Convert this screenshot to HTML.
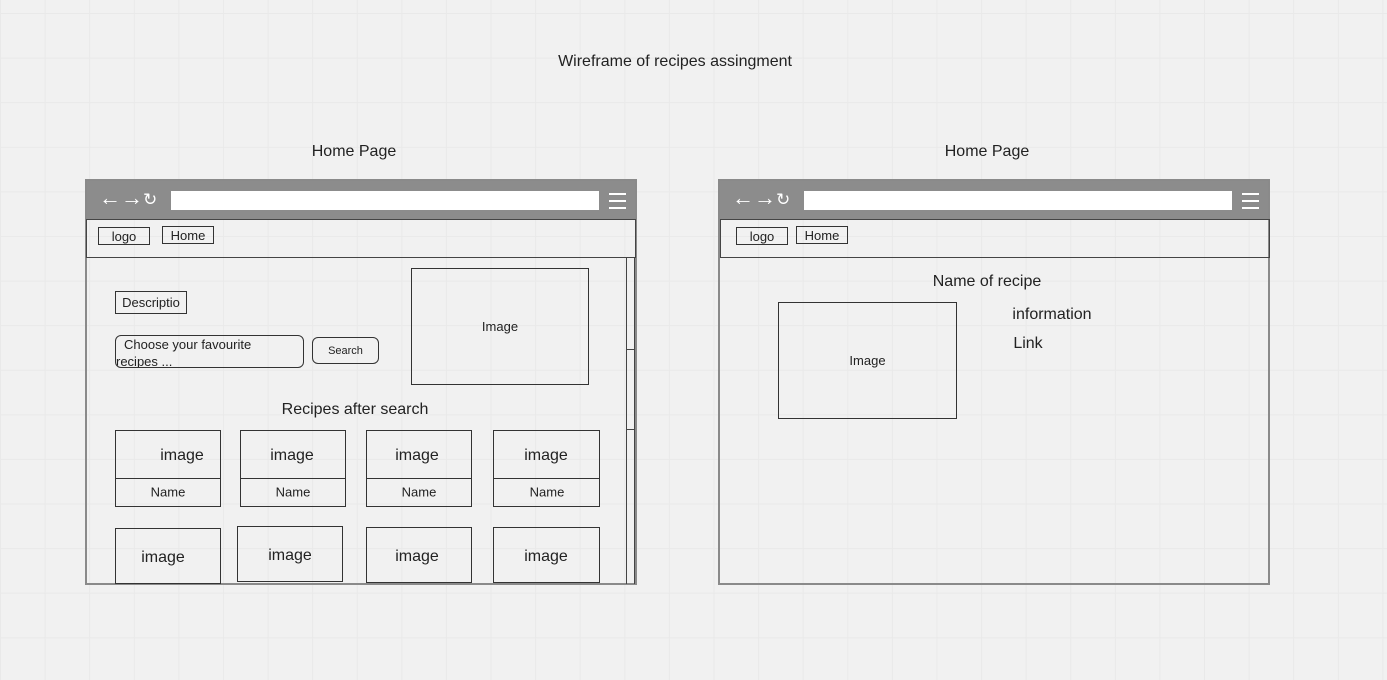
<!DOCTYPE html>
<html><head><meta charset="utf-8"><style>
body{margin:0;width:1387px;height:680px;overflow:hidden;background-color:#f1f1f1;
background-image:linear-gradient(#e9e9e9 1px,transparent 1px),linear-gradient(90deg,#e9e9e9 1px,transparent 1px);
background-size:44.6px 44.6px;background-position:0 13px;font-family:"Liberation Sans",sans-serif;color:#222;position:relative}
.a{position:absolute}
.t{position:absolute;white-space:nowrap;transform:translate(-50%,-45%)}
.b{position:absolute;border:1px solid #333;box-sizing:border-box}
.win{position:absolute;border:2px solid #8a8a8a;box-sizing:border-box;background:transparent}
.bar{position:absolute;left:0;right:0;top:0;height:39px;background:#8c8c8c}
.url{position:absolute;background:#fff}
.ic{position:absolute;color:#fff;font-size:22px;line-height:20px;font-weight:bold}
.c{display:flex;align-items:center;justify-content:center}
</style></head><body>
<div class="t" style="left:675px;top:61px;font-size:16px">Wireframe of recipes assingment</div>
<div class="t" style="left:354px;top:151px;font-size:16px">Home Page</div>
<div class="t" style="left:987px;top:151px;font-size:16px">Home Page</div>

<!-- left window -->
<div class="win" style="left:85px;top:179px;width:552px;height:406px">
 <div class="bar"></div>
 <div class="ic" style="left:12px;top:7px">←→</div>
 <div class="ic" style="left:56px;top:9px;font-size:17px;font-weight:normal">↻</div>
 <div class="url" style="left:84px;top:10px;width:428px;height:19px"></div>
 <div class="a" style="left:522px;top:12px;width:17px;height:2px;background:#fff;box-shadow:0 7px 0 #fff,0 14px 0 #fff"></div>
</div>
<div class="b" style="left:86px;top:219px;width:550px;height:39px;border-color:#444"></div>
<div class="a" style="left:626px;top:258px;width:1px;height:326px;background:#444"></div>
<div class="a" style="left:634px;top:258px;width:1px;height:326px;background:#444"></div>
<div class="a" style="left:626px;top:349px;width:9px;height:1px;background:#444"></div>
<div class="a" style="left:626px;top:429px;width:9px;height:1px;background:#444"></div>
<div class="b c" style="left:98px;top:227px;width:52px;height:18px;font-size:13px">logo</div>
<div class="b c" style="left:162px;top:226px;width:52px;height:18px;font-size:13px">Home</div>
<div class="b c" style="left:115px;top:291px;width:72px;height:23px;font-size:13px">Descriptio</div>
<div class="b" style="left:115px;top:335px;width:189px;height:33px;border-radius:6px;font-size:13px;overflow:hidden;line-height:17px;padding-left:8px">Choose your favourite<br><span style="margin-left:-8px">recipes ...</span></div>
<div class="b c" style="left:312px;top:337px;width:67px;height:27px;border-radius:6px;font-size:11px">Search</div>
<div class="b c" style="left:411px;top:268px;width:178px;height:117px;font-size:13px">Image</div>
<div class="t" style="left:355px;top:409px;font-size:16px">Recipes after search</div>

<div class="b" style="left:115px;top:430px;width:106px;height:77px"></div>
<div class="a" style="left:115px;top:478px;width:106px;height:1px;background:#333"></div>
<div class="t" style="left:182px;top:455px;font-size:16px">image</div>
<div class="t" style="left:168px;top:491px;font-size:13px">Name</div>

<div class="b" style="left:240px;top:430px;width:106px;height:77px"></div>
<div class="a" style="left:240px;top:478px;width:106px;height:1px;background:#333"></div>
<div class="t" style="left:292px;top:455px;font-size:16px">image</div>
<div class="t" style="left:293px;top:491px;font-size:13px">Name</div>

<div class="b" style="left:366px;top:430px;width:106px;height:77px"></div>
<div class="a" style="left:366px;top:478px;width:106px;height:1px;background:#333"></div>
<div class="t" style="left:417px;top:455px;font-size:16px">image</div>
<div class="t" style="left:419px;top:491px;font-size:13px">Name</div>

<div class="b" style="left:493px;top:430px;width:107px;height:77px"></div>
<div class="a" style="left:493px;top:478px;width:107px;height:1px;background:#333"></div>
<div class="t" style="left:546px;top:455px;font-size:16px">image</div>
<div class="t" style="left:547px;top:491px;font-size:13px">Name</div>

<div class="b" style="left:115px;top:528px;width:106px;height:56px"></div>
<div class="t" style="left:163px;top:557px;font-size:16px">image</div>
<div class="b" style="left:237px;top:526px;width:106px;height:56px"></div>
<div class="t" style="left:290px;top:555px;font-size:16px">image</div>
<div class="b" style="left:366px;top:527px;width:106px;height:56px"></div>
<div class="t" style="left:417px;top:556px;font-size:16px">image</div>
<div class="b" style="left:493px;top:527px;width:107px;height:56px"></div>
<div class="t" style="left:546px;top:556px;font-size:16px">image</div>

<!-- right window -->
<div class="win" style="left:718px;top:179px;width:552px;height:406px">
 <div class="bar"></div>
 <div class="ic" style="left:12px;top:7px">←→</div>
 <div class="ic" style="left:56px;top:9px;font-size:17px;font-weight:normal">↻</div>
 <div class="url" style="left:84px;top:10px;width:428px;height:19px"></div>
 <div class="a" style="left:522px;top:12px;width:17px;height:2px;background:#fff;box-shadow:0 7px 0 #fff,0 14px 0 #fff"></div>
</div>
<div class="b" style="left:720px;top:219px;width:550px;height:39px;border-color:#444"></div>
<div class="b c" style="left:736px;top:227px;width:52px;height:18px;font-size:13px">logo</div>
<div class="b c" style="left:796px;top:226px;width:52px;height:18px;font-size:13px">Home</div>
<div class="t" style="left:987px;top:281px;font-size:16px">Name of recipe</div>
<div class="b c" style="left:778px;top:302px;width:179px;height:117px;font-size:13px">Image</div>
<div class="t" style="left:1052px;top:314px;font-size:16px">information</div>
<div class="t" style="left:1028px;top:343px;font-size:16px">Link</div>
</body></html>
